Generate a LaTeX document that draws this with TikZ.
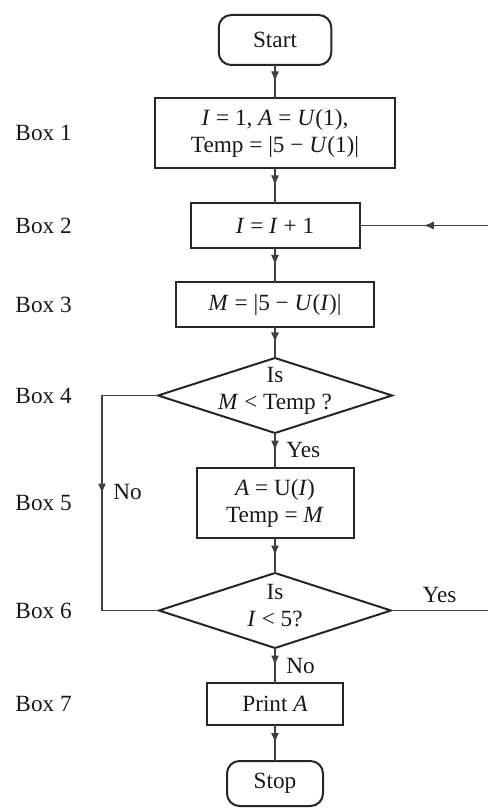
\documentclass[tikz,border=0pt]{standalone}
\usepackage{fontspec}
\setmainfont{Liberation Serif}
\usepackage{tikz}
\usetikzlibrary{arrows.meta,positioning,shapes.geometric,decorations.markings}

\begin{document}
\begin{tikzpicture}[
    font=\fontsize{9.3}{10.8}\selectfont,
    text=black!90,
    procbox/.style={draw=black!85,line width=0.8pt,rectangle,align=center,inner sep=1pt,outer sep=0pt},
    terminal/.style={procbox,rounded corners=5pt},
    decision/.style={draw=black!85,line width=0.8pt,diamond,inner sep=0pt,outer sep=0pt,
      minimum width=93.6pt,minimum height=30pt},
    boxlabel/.style={anchor=west,inner sep=0pt},
    conn/.style={draw=black!75,line width=0.5pt},
    midarrow/.style={postaction={decorate},decoration={markings,
      mark=at position #1 with {\arrow{Latex[length=4pt,width=3.2pt]}}}},
    flow/.style={conn,midarrow=#1},
    flow/.default=0.5
  ]
    \useasboundingbox (-110pt,16pt) rectangle (85.2pt,-307.2pt);
    \coordinate (lcol) at (-104pt,0);
    \coordinate (loopx) at (-69.2pt,0);
    \coordinate (redge) at (85.2pt,0);

    \node[terminal,minimum width=45pt,minimum height=20pt] (start) at (0,0) {Start};
    \node[procbox,minimum width=96pt,minimum height=28pt,below=13.2pt of start] (box1)
      {\textit{I} = 1, \textit{A} = \textit{U}(1),\\Temp = |5 − \textit{U}(1)|};
    \node[procbox,minimum width=67.6pt,minimum height=18pt,below=14pt of box1] (box2)
      {\textit{I} = \textit{I} + 1};
    \node[procbox,minimum width=79.2pt,minimum height=18pt,below=13.6pt of box2] (box3)
      {\textit{M} = |5 − \textit{U}(\textit{I})|};
    \node[decision,below=12.4pt of box3,
      label={[align=center,yshift=2pt,name=q4]center:{Is\\\textit{M} < Temp ?}}] (box4) {};
    \node[procbox,minimum width=62.8pt,minimum height=28pt,below=14pt of box4] (box5)
      {\textit{A} = U(\textit{I})\\Temp = \textit{M}};
    \node[decision,minimum width=92.8pt,below=14pt of box5,
      label={[align=center,yshift=2pt,name=q6]center:{Is\\\textit{I} < 5?}}] (box6) {};
    \node[procbox,minimum width=54.4pt,minimum height=16.8pt,below=14pt of box6] (box7)
      {Print \textit{A}};
    \node[terminal,minimum width=38.4pt,minimum height=18pt,below=14.4pt of box7] (stop) {Stop};

    \foreach \n in {1,...,7}
      \node[boxlabel] (lbl\n) at (lcol |- box\n) {Box \n};

    \foreach \a/\b in {start/box1,box1/box2,box2/box3,box3/box4,box5/box6,box7/stop}
      \draw[flow] (\a) -- (\b);
    \draw[flow] (box4) -- node[right,xshift=1pt] (yes4) {Yes} (box5);
    \draw[flow] (box6) -- node[right,xshift=1pt] (no6) {No} (box7);
    \draw[flow] (redge |- box2) -- (box2);
    \draw[flow=0.47] (box4.west) -- (loopx |- box4)
      -- node[right,pos=0.45,xshift=1pt] (no4) {No} (loopx |- box6) -- (box6.west);
    \draw[conn] (box6.east) -- node[above,inner sep=3pt] (yes6) {Yes} (redge |- box6);
  \end{tikzpicture}
\end{document}
